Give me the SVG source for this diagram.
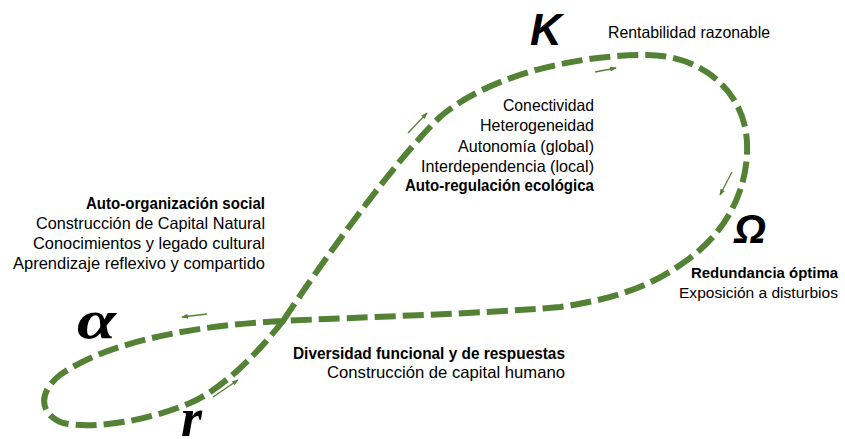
<svg xmlns="http://www.w3.org/2000/svg" width="845" height="439" viewBox="0 0 845 439">
<style>
.t{font-family:"Liberation Sans",Arial,sans-serif;font-size:16.5px;fill:#000}
.b{font-weight:bold}
.s15{font-size:15px}
.s155{font-size:15.5px}
.loop{fill:none;stroke:#548235;stroke-width:6;stroke-dasharray:21 7}
.dir{fill:none;stroke:#548235;stroke-width:1.3}
.big{font-family:"Liberation Sans",Arial,sans-serif;font-weight:bold;font-style:italic;fill:#000}
.greek{font-family:"Liberation Serif","DejaVu Serif",serif;font-weight:bold;font-style:italic;fill:#000}
</style>
<defs>
<marker id="ah" viewBox="0 0 8 6" refX="7" refY="3" markerWidth="7" markerHeight="5" markerUnits="userSpaceOnUse" orient="auto">
<path d="M0,0 L8,3 L0,6 Z" fill="#548235"/>
</marker>
</defs>
<rect width="845" height="439" fill="#fff"/>
<g id="connectors">
<path class="loop" d="M283,321 C320,265 395,160 440,117 C485,78 570,55 647,55 C700,55 745,90 747,143 C749,190 725,235 683,263 C650,287 610,300 560,307 C480,314 360,317 283,321 C200,325 110,340 60,375 C37,393 40,415 63,423 C95,430 150,420 190,403 C225,388 260,350 283,321 Z"/>
<line class="dir" x1="207" y1="314" x2="182" y2="317" marker-end="url(#ah)"/>
<line class="dir" x1="213" y1="397" x2="238" y2="380" marker-end="url(#ah)"/>
<line class="dir" x1="408" y1="133" x2="427" y2="113" marker-end="url(#ah)"/>
<line class="dir" x1="595" y1="72" x2="616" y2="68" marker-end="url(#ah)"/>
<line class="dir" x1="732" y1="172" x2="720" y2="195" marker-end="url(#ah)"/>
</g>
<g id="node-K">
<text class="big" x="530" y="45" font-size="44">K</text>
<text class="t" x="608" y="38" textLength="162" lengthAdjust="spacingAndGlyphs">Rentabilidad razonable</text>
</g>
<g id="node-conservation">
<text class="t" x="503" y="111" textLength="91" lengthAdjust="spacingAndGlyphs">Conectividad</text>
<text class="t" x="480" y="131" textLength="114" lengthAdjust="spacingAndGlyphs">Heterogeneidad</text>
<text class="t" x="458" y="152" textLength="136" lengthAdjust="spacingAndGlyphs">Autonomía (global)</text>
<text class="t" x="421" y="172" textLength="173" lengthAdjust="spacingAndGlyphs">Interdependencia (local)</text>
<text class="t b" x="405" y="191" textLength="189" lengthAdjust="spacingAndGlyphs">Auto-regulación ecológica</text>
</g>
<g id="node-omega">
<text class="big" x="734" y="243" font-size="41">Ω</text>
<text class="t b s15" x="691" y="278" textLength="147" lengthAdjust="spacingAndGlyphs">Redundancia óptima</text>
<text class="t s155" x="679" y="298" textLength="159" lengthAdjust="spacingAndGlyphs">Exposición a disturbios</text>
</g>
<g id="node-alpha">
<text class="greek" x="77" y="338" font-size="54" textLength="39" lengthAdjust="spacingAndGlyphs">α</text>
<text class="t b" x="86" y="209" textLength="179" lengthAdjust="spacingAndGlyphs">Auto-organización social</text>
<text class="t" x="36" y="229" textLength="229" lengthAdjust="spacingAndGlyphs">Construcción de Capital Natural</text>
<text class="t" x="33" y="249" textLength="232" lengthAdjust="spacingAndGlyphs">Conocimientos y legado cultural</text>
<text class="t" x="13" y="269" textLength="252" lengthAdjust="spacingAndGlyphs">Aprendizaje reflexivo y compartido</text>
</g>
<g id="node-r">
<text class="greek" x="181" y="436" font-size="54">r</text>
<text class="t b" x="293" y="359" textLength="272" lengthAdjust="spacingAndGlyphs">Diversidad funcional y de respuestas</text>
<text class="t" x="327" y="378" textLength="238" lengthAdjust="spacingAndGlyphs">Construcción de capital humano</text>
</g>
</svg>
